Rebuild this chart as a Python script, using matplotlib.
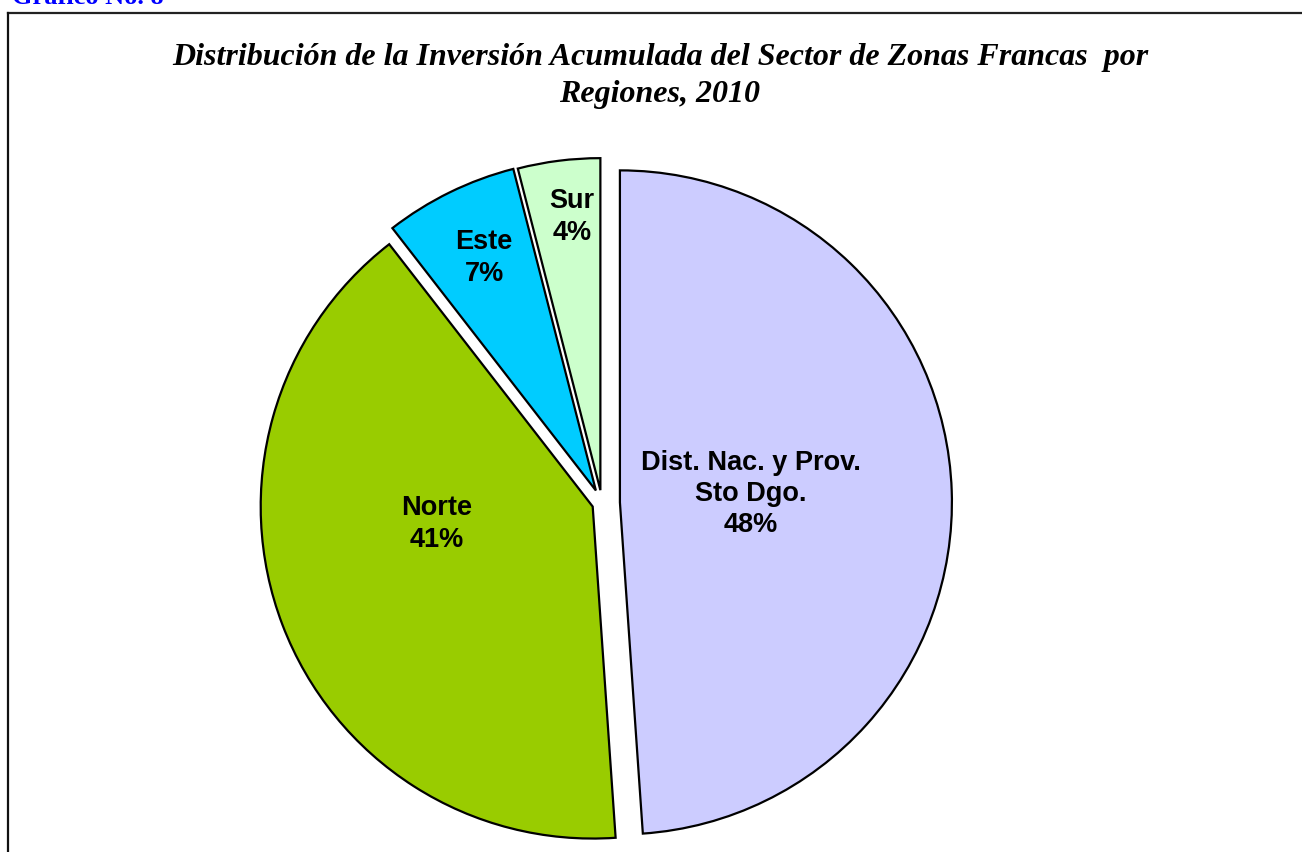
import matplotlib
matplotlib.use("Agg")
import matplotlib.pyplot as plt
from matplotlib.lines import Line2D

# ---- data ----
regions = ["Dist. Nac. y Prov.\nSto Dgo.", "Norte", "Este", "Sur"]
shares = [48.9, 40.6, 6.5, 4.0]          # slice sizes
pct_labels = ["48%", "41%", "7%", "4%"]  # percentages printed on the chart
colors = ["#CCCCFF", "#99CC00", "#00CCFF", "#CCFFCC"]
explode = [0.054, 0.03, 0.042, 0.039]
title = "Distribución de la Inversión Acumulada del Sector de Zonas Francas  por\nRegiones, 2010"
header = "Gráfico No. 8"

W, H = 1302, 852
fig = plt.figure(figsize=(W / 100, H / 100), dpi=100)

# pie geometry (pixels)
cx, cy, R = 602, 503, 332
ax = fig.add_axes([0, 0, 1, 1])
wedges, _ = ax.pie(shares, colors=colors, explode=explode, startangle=90,
                   counterclock=False, radius=1,
                   wedgeprops=dict(edgecolor="black", linewidth=1.6))
ax.set_xlim((0 - cx) / R, (W - cx) / R)
ax.set_ylim((cy - H) / R, cy / R)
ax.axis("off")

# data labels
label_pos = [(751, 494), (437, 524), (484, 258), (572, 217)]
for name, pct, (px, py) in zip(regions, pct_labels, label_pos):
    ax.text((px - cx) / R, (cy - py) / R, f"{name}\n{pct}",
            ha="center", va="center", fontsize=19.5, fontweight="bold",
            family="Liberation Sans", linespacing=1.27)

# title
fig.text(660 / W, 1 - 76 / H, title, ha="center", va="center",
         fontsize=23, fontweight="bold", style="italic",
         family="Liberation Serif", linespacing=1.4)

# header (partially cut at top, as in the source)
fig.text(12 / W, 1 - 4 / H, header, ha="left", va="baseline",
         fontsize=19, fontweight="bold", family="Liberation Serif",
         color="#0000FF")

# chart border
fig.add_artist(Line2D([8 / W, 1.01], [1 - 13 / H, 1 - 13 / H],
                      transform=fig.transFigure, color="#222222", linewidth=1.6))
fig.add_artist(Line2D([8 / W, 8 / W], [1 - 13 / H, -0.01],
                      transform=fig.transFigure, color="#111111", linewidth=1.6))

fig.savefig("out.png", dpi=100)
